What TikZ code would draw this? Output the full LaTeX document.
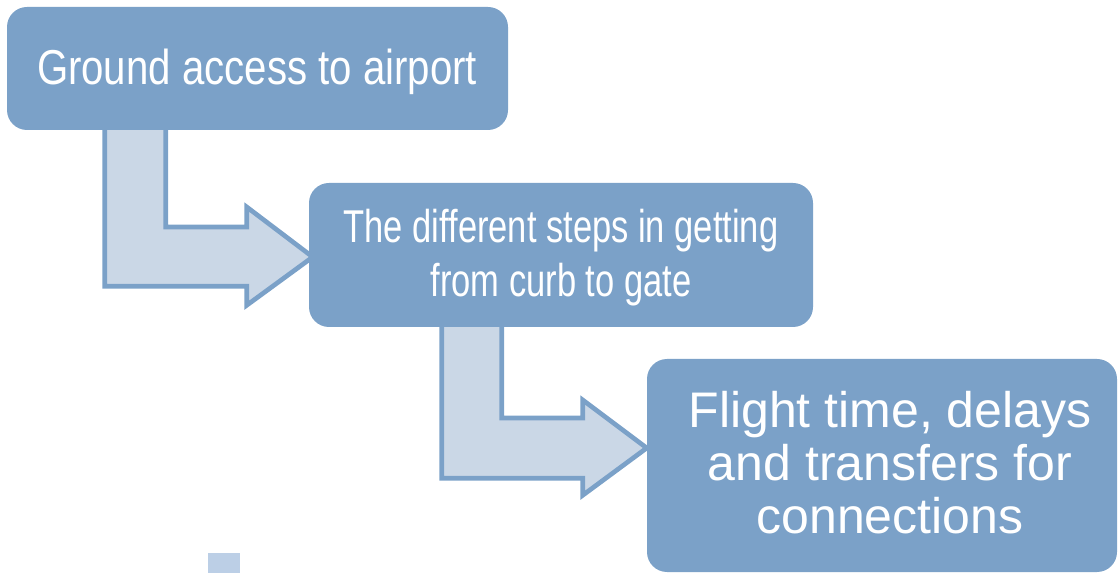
\documentclass[tikz,border=0pt]{standalone}
\usepackage{fontspec}
\setmainfont{Liberation Sans}
\usetikzlibrary{calc}
\pgfdeclarelayer{arrows}
\pgfsetlayers{arrows,main}
\definecolor{boxblue}{HTML}{7BA1C8}
\definecolor{arrowfill}{HTML}{CAD7E6}
\definecolor{chipblue}{HTML}{BCCFE6}
\tikzset{
  stepbox/.style={rectangle, rounded corners=15pt, fill=boxblue, draw=none, inner sep=0pt},
  bentarrow/.style={draw=boxblue, fill=arrowfill, line width=3.5pt, line join=miter},
  steptext/.style={text=white, inner sep=0pt, anchor=base}
}
\begin{document}
\begin{tikzpicture}[x=0.75pt, y=-0.75pt]
\useasboundingbox (0,0) rectangle (1118,573);

% the three step boxes
\node[stepbox, minimum width=375.75pt, minimum height=92.25pt] (b1) at (257.5,68.5) {};
\node[stepbox, minimum width=378pt, minimum height=108pt] (b2) at (561,255) {};
\node[stepbox, minimum width=352.5pt, minimum height=159.75pt] (b3) at (882,465.5) {};

% bent arrows, kept underneath the boxes
\coordinate (a1top) at ($(b1.south west)+(98,-10)$);
\coordinate (a1tip) at ($(b2.west)+(4,2)$);
\coordinate (a2top) at ($(b2.south west)+(133,-10)$);
\coordinate (a2tip) at ($(b3.west)+(0,-17.5)$);
\begin{pgfonlayer}{arrows}
\draw[bentarrow] (a1top) -- ++(0,166) -- ++(142,0) -- ++(0,19) -- (a1tip)
  -- ++(-66,-50) -- ++(0,20) -- ++(-81,0) -- ++(0,-107) -- cycle;
\draw[bentarrow] (a2top) -- ++(0,161) -- ++(141,0) -- ++(0,17) -- (a2tip)
  -- ++(-64,-48) -- ++(0,18) -- ++(-81,0) -- ++(0,-101) -- cycle;
\end{pgfonlayer}

% labels
\node[steptext] (t1) at (257,85) {\fontsize{36.75}{40.5}\selectfont\scalebox{0.82}[1]{Ground access to airport}};
\node[steptext] (t2) at (561,243) {\fontsize{34.5}{40.5}\selectfont\scalebox{0.75}[1]{\begin{tabular}[t]{@{}c@{}}The different steps in getting\\from curb to gate\end{tabular}}};
\node[steptext] (t3) at (890,428) {\fontsize{37.5}{39.75}\selectfont\begin{tabular}[t]{@{}c@{}}Flight time, delays\\and transfers for\\connections\end{tabular}};

% small square at the lower edge
\fill[chipblue] (208,553) rectangle (240,573);
\end{tikzpicture}
\end{document}
